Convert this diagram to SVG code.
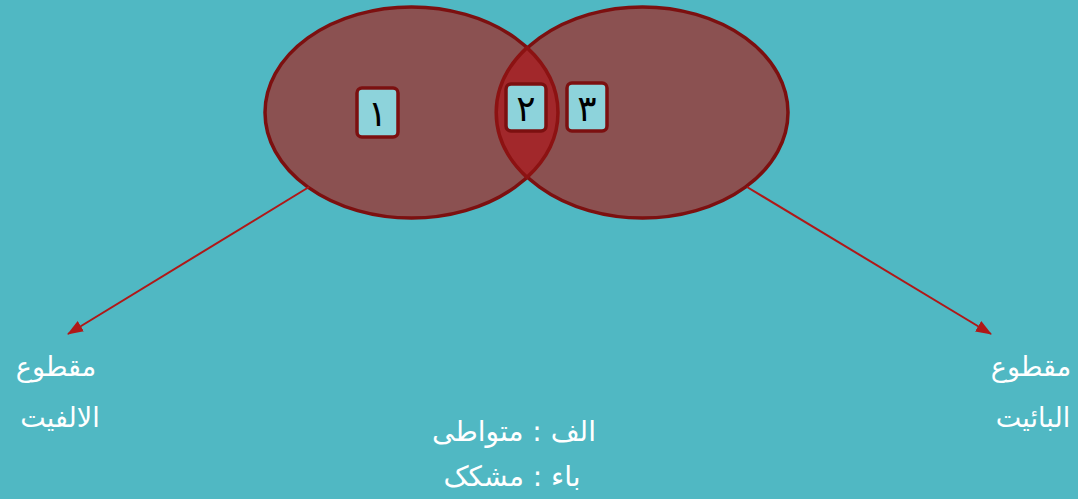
<svg xmlns="http://www.w3.org/2000/svg" width="1078" height="499" viewBox="0 0 1078 499">
<style>
.ell{fill:#8B5151;stroke:#7C1010;stroke-width:3.5}
.box{fill:#8DD3DB;stroke:#7C1010;stroke-width:3.5}
.num{font-family:"DejaVu Sans",sans-serif;font-size:36px;fill:#000;text-anchor:middle}
.lbl{font-family:"DejaVu Sans",sans-serif;font-size:27px;fill:#fff;text-anchor:middle;direction:rtl}
.lg{font-size:28px}
.arr{stroke:#B01818;stroke-width:2;fill:none}
</style>
<defs>
<marker id="ah" markerWidth="16" markerHeight="12" refX="15" refY="6" orient="auto" markerUnits="userSpaceOnUse">
<path d="M0,0 L16,6 L0,12 Z" fill="#B01818"/>
</marker>
</defs>
<rect width="1078" height="499" fill="#50B8C3"/>
<g id="set-a"><ellipse class="ell" cx="411.5" cy="112.5" rx="146.5" ry="105.5"/></g>
<g id="set-b"><ellipse class="ell" cx="642.5" cy="112.5" rx="145.5" ry="105.5"/></g>
<g id="overlap"><path d="M527,47.6 A146.5,105.5 0 0 1 527,177.4 A145.5,105.5 0 0 1 527,47.6 Z" fill="#A2282B" stroke="#8C1212" stroke-width="3.5"/></g>
<g id="box1"><rect class="box" x="357" y="88" width="41" height="49" rx="5"/><text class="num" x="377.5" y="126">١</text></g>
<g id="box2"><rect class="box" x="506" y="84" width="40" height="47" rx="5"/><text class="num" x="526" y="121">٢</text></g>
<g id="box3"><rect class="box" x="567" y="83" width="40" height="48" rx="5"/><text class="num" x="587" y="121">٣</text></g>
<g id="connectors">
<line class="arr" x1="309" y1="187" x2="68" y2="334" marker-end="url(#ah)"/>
<line class="arr" x1="747" y1="187" x2="991" y2="334" marker-end="url(#ah)"/>
</g>
<g id="label-left"><text class="lbl" x="56" y="376">مقطوع</text><text class="lbl" x="60" y="427">الالفیت</text></g>
<g id="label-right"><text class="lbl" x="1031" y="376">مقطوع</text><text class="lbl" x="1033" y="427">البائیت</text></g>
<g id="legend"><text class="lbl lg" x="514" y="441">الف : متواطی</text><text class="lbl lg" x="512" y="486">باء : مشکک</text></g>
</svg>
